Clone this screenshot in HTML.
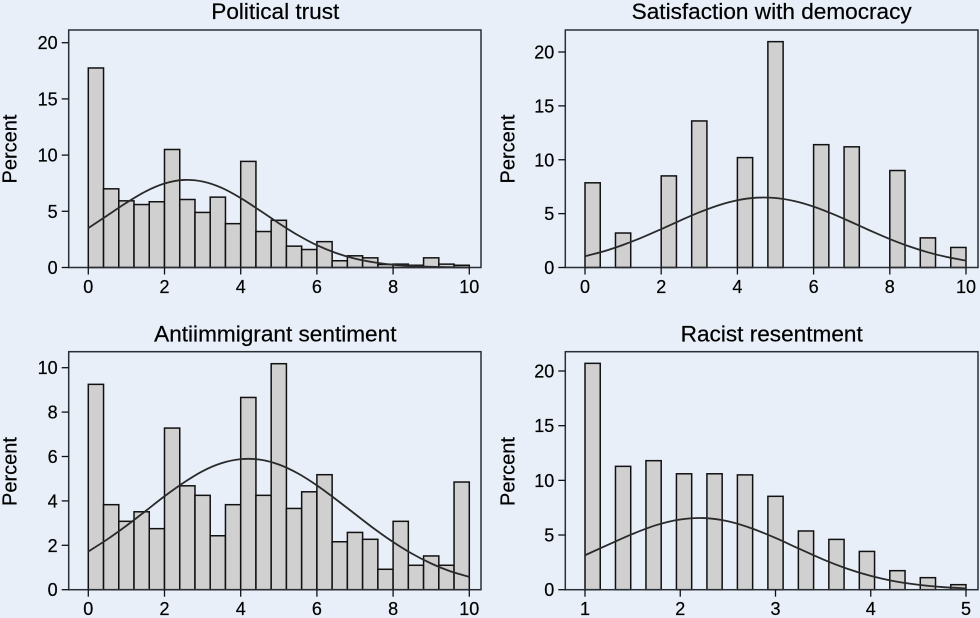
<!DOCTYPE html>
<html>
<head>
<meta charset="utf-8">
<title>Distribution histograms</title>
<style>
html,body{margin:0;padding:0;background:#e8eff9;}
svg{display:block;filter:blur(0.35px);}
text{font-family:"Liberation Sans",Arial,sans-serif;fill:#000;stroke:#000;stroke-width:0.2px;}
.title{font-size:22.6px;text-anchor:middle;}
.ylab{font-size:20px;text-anchor:middle;}
.tick{font-size:18px;}
</style>
</head>
<body>
<svg id="chart" width="980" height="618" viewBox="0 0 980 618" xmlns="http://www.w3.org/2000/svg">
  <rect x="0" y="0" width="980" height="618" fill="#e8eff9"/>
  <text class="title" x="275.3" y="19">Political trust</text>
  <text class="title" x="771.7" y="19">Satisfaction with democracy</text>
  <text class="title" x="275.3" y="341.3">Antiimmigrant sentiment</text>
  <text class="title" x="771.7" y="341.3">Racist resentment</text>
  <text class="ylab" transform="translate(16.5,149) rotate(-90)">Percent</text>
  <text class="ylab" transform="translate(514.3,149) rotate(-90)">Percent</text>
  <text class="ylab" transform="translate(16.5,471.5) rotate(-90)">Percent</text>
  <text class="ylab" transform="translate(514.3,471.5) rotate(-90)">Percent</text>
</svg>
<script>
// Political trust
const trustBins = [0,0.4,0.8,1.2,1.6,2,2.4,2.8,3.2,3.6,4,4.4,4.8,5.2,5.6,6,6.4,6.8,7.2,7.6,8,8.4,8.8,9.2,9.6];
const trustPercent = [17.75,7.0,5.93,5.6,5.85,10.5,6.05,4.9,6.26,3.9,9.44,3.2,4.2,1.9,1.6,2.3,0.6,1.04,0.86,0.27,0.3,0.2,0.86,0.3,0.2];
const trustCurveX = [0,0.5,1,1.5,2,2.5,3,3.5,4,4.5,5,5.5,6,6.5,7,7.5,8,8.5,9,9.5,10];
const trustCurveY = [3.5,4.63,5.76,6.76,7.47,7.79,7.65,7.09,6.18,5.08,3.94,2.88,1.98,1.29,0.79,0.46,0.25,0.13,0.06,0.03,0.01];
const trustXTicks = [0,2,4,6,8,10];
const trustYTicks = [0,5,10,15,20];

// Satisfaction with democracy
const satisfactionBins = [0,0.8,2,2.8,4,4.8,6,6.8,8,8.8,9.6];
const satisfactionPercent = [7.86,3.2,8.5,13.6,10.2,20.96,11.4,11.2,9.0,2.75,1.86];
const satisfactionCurveX = [0,0.5,1,1.5,2,2.5,3,3.5,4,4.5,5,5.5,6,6.5,7,7.5,8,8.5,9,9.5,10];
const satisfactionCurveY = [1.05,1.51,2.1,2.79,3.56,4.36,5.12,5.77,6.24,6.48,6.45,6.16,5.65,4.97,4.2,3.4,2.64,1.97,1.41,0.97,0.64];
const satisfactionXTicks = [0,2,4,6,8,10];
const satisfactionYTicks = [0,5,10,15,20];

// Antiimmigrant sentiment
const immigrantBins = [0,0.4,0.8,1.2,1.6,2,2.4,2.8,3.2,3.6,4,4.4,4.8,5.2,5.6,6,6.4,6.8,7.2,7.6,8,8.4,8.8,9.2,9.6];
const immigrantPercent = [9.25,3.83,3.08,3.51,2.75,7.28,4.68,4.25,2.43,3.83,8.66,4.25,10.18,3.66,4.41,5.18,2.16,2.58,2.27,0.92,3.08,1.1,1.52,1.1,4.85];
const immigrantCurveX = [0,0.5,1,1.5,2,2.5,3,3.5,4,4.5,5,5.5,6,6.5,7,7.5,8,8.5,9,9.5,10];
const immigrantCurveY = [1.72,2.27,2.88,3.54,4.21,4.82,5.34,5.7,5.88,5.86,5.64,5.24,4.7,4.07,3.41,2.75,2.15,1.62,1.18,0.83,0.58];
const immigrantXTicks = [0,2,4,6,8,10];
const immigrantYTicks = [0,2,4,6,8,10];

// Racist resentment
const racistBins = [1,1.32,1.64,1.96,2.28,2.6,2.92,3.24,3.56,3.88,4.2,4.52,4.84];
const racistPercent = [20.7,11.28,11.8,10.6,10.6,10.5,8.54,5.37,4.6,3.5,1.74,1.1,0.46];
const racistCurveX = [1,1.25,1.5,1.75,2,2.25,2.5,2.75,3,3.25,3.5,3.75,4,4.25,4.5,4.75,5];
const racistCurveY = [3.15,4.14,5.1,5.91,6.42,6.55,6.26,5.61,4.73,3.74,2.77,1.93,1.26,0.77,0.45,0.24,0.12];
const racistXTicks = [1,2,3,4,5];
const racistYTicks = [0,5,10,15,20];

const NS = 'http://www.w3.org/2000/svg';
const svg = document.getElementById('chart');

function make(tag, attrs, parent) {
  const el = document.createElementNS(NS, tag);
  for (const k in attrs) el.setAttribute(k, attrs[k]);
  parent.appendChild(el);
  return el;
}

function linearScale(d0, d1, r0, r1) {
  return function (v) { return r0 + (v - d0) * (r1 - r0) / (d1 - d0); };
}

function smoothPath(px, py) {
  let d = 'M' + px[0].toFixed(2) + ' ' + py[0].toFixed(2);
  for (let i = 0; i < px.length - 1; i++) {
    const a = Math.max(i - 1, 0), b = Math.min(i + 2, px.length - 1);
    const c1x = px[i] + (px[i + 1] - px[a]) / 6;
    const c1y = py[i] + (py[i + 1] - py[a]) / 6;
    const c2x = px[i + 1] - (px[b] - px[i]) / 6;
    const c2y = py[i + 1] - (py[b] - py[i]) / 6;
    d += 'C' + c1x.toFixed(2) + ' ' + c1y.toFixed(2) + ' ' + c2x.toFixed(2) + ' ' + c2y.toFixed(2) + ' ' + px[i + 1].toFixed(2) + ' ' + py[i + 1].toFixed(2);
  }
  return d;
}

function drawPanel(name, box, xAxis, yAxis, binWidth, bins, percent, curveX, curveY, xTicks, yTicks) {
  const x = linearScale(xAxis.min, xAxis.max, xAxis.left, xAxis.right);
  const y = linearScale(0, yAxis.max, yAxis.zero, yAxis.top);

  const g = make('g', {}, svg);
  
  

  const plot = make('rect', { x: box.l, y: box.t, width: box.r - box.l, height: box.b - box.t, fill: '#e8eff9', stroke: 'none' }, g);
  
  

  bins.forEach(function (start, i) {
    const x0 = x(start), x1 = x(start + binWidth), top = y(percent[i]), zero = y(0);
    const bar = make('rect', { x: x0, y: top, width: x1 - x0, height: zero - top, fill: '#d0d0d0', stroke: '#111', 'stroke-width': 1.5 }, g);
    
    
  });

  const curve = make('path', {
    d: smoothPath(curveX.map(x), curveY.map(y)),
    fill: 'none', stroke: '#2a2a2a', 'stroke-width': 1.8
  }, g);
  
  

  const frame = make('rect', { x: box.l, y: box.t, width: box.r - box.l, height: box.b - box.t, fill: 'none', stroke: '#2a2f36', 'stroke-width': 1.5 }, g);
  
  

  xTicks.forEach(function (v) {
    const t = make('line', { x1: x(v), x2: x(v), y1: box.b, y2: box.b + 7, stroke: '#111', 'stroke-width': 1.3 }, g);
    
    
    const l = make('text', { class: 'tick', x: x(v), y: box.b + 25.5, 'text-anchor': 'middle' }, g);
    
    
    l.textContent = String(v);
  });

  yTicks.forEach(function (v) {
    const t = make('line', { x1: box.l - 7, x2: box.l, y1: y(v), y2: y(v), stroke: '#111', 'stroke-width': 1.3 }, g);
    
    
    const l = make('text', { class: 'tick', x: box.l - 11, y: y(v) + 6.5, 'text-anchor': 'end' }, g);
    
    
    l.textContent = String(v);
  });
}

drawPanel('political-trust',
  { l: 68.7, r: 481, t: 30, b: 267.5 },
  { min: 0, max: 10, left: 88.3, right: 469.3 },
  { max: 20, zero: 267.5, top: 42.7 },
  0.4, trustBins, trustPercent, trustCurveX, trustCurveY, trustXTicks, trustYTicks);

drawPanel('satisfaction',
  { l: 565.3, r: 978, t: 30, b: 267.5 },
  { min: 0, max: 10, left: 585, right: 966 },
  { max: 20, zero: 267.5, top: 52 },
  0.4, satisfactionBins, satisfactionPercent, satisfactionCurveX, satisfactionCurveY, satisfactionXTicks, satisfactionYTicks);

drawPanel('antiimmigrant',
  { l: 68.7, r: 481, t: 351.7, b: 589.7 },
  { min: 0, max: 10, left: 88.3, right: 469.3 },
  { max: 10, zero: 589.7, top: 367.7 },
  0.4, immigrantBins, immigrantPercent, immigrantCurveX, immigrantCurveY, immigrantXTicks, immigrantYTicks);

drawPanel('racist-resentment',
  { l: 565.3, r: 978, t: 351.7, b: 589.7 },
  { min: 1, max: 5, left: 585, right: 966 },
  { max: 20, zero: 589.7, top: 371 },
  0.16, racistBins, racistPercent, racistCurveX, racistCurveY, racistXTicks, racistYTicks);
</script>
</body>
</html>
